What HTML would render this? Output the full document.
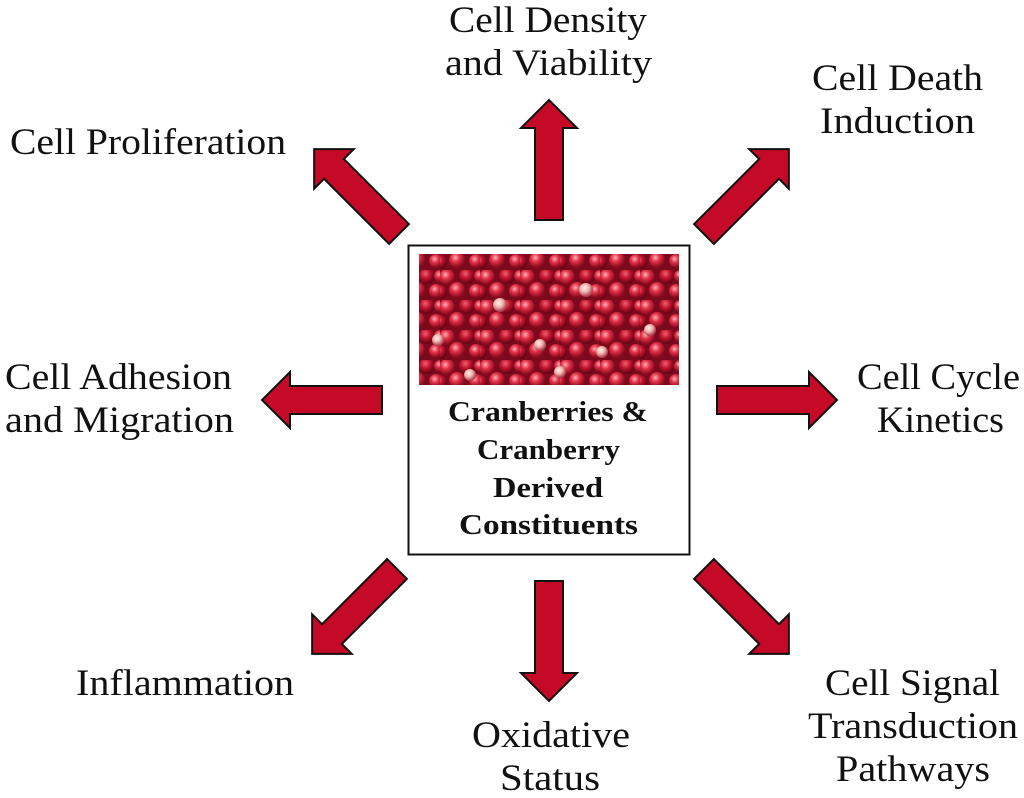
<!DOCTYPE html>
<html><head><meta charset="utf-8"><style>
html,body{margin:0;padding:0;background:#fff;}
svg{display:block;}
text{font-family:"Liberation Serif",serif;fill:#111;}
.l{font-size:37px;}
.c{font-size:28px;font-weight:bold;}
</style></head><body>
<svg width="1024" height="798" viewBox="0 0 1024 798" xmlns="http://www.w3.org/2000/svg">
<defs>
<polygon id="ar" points="0,-14 92,-14 92,-28 120,0 92,28 92,14 0,14" fill="#c40a26" stroke="#111" stroke-width="2" stroke-linejoin="miter"/>
<radialGradient id="b1" cx="0.4" cy="0.35" r="0.6"><stop offset="0" stop-color="#ffb0b8"/><stop offset="0.45" stop-color="#e23048"/><stop offset="1" stop-color="#8a0a1e"/></radialGradient>
<radialGradient id="b2" cx="0.4" cy="0.35" r="0.6"><stop offset="0" stop-color="#f06070"/><stop offset="0.5" stop-color="#c0142e"/><stop offset="1" stop-color="#6a0414"/></radialGradient>
<radialGradient id="b3" cx="0.4" cy="0.35" r="0.6"><stop offset="0" stop-color="#fff0e8"/><stop offset="0.5" stop-color="#f0b8b0"/><stop offset="1" stop-color="#b04050"/></radialGradient>
<pattern id="berries" width="40" height="30" patternUnits="userSpaceOnUse">
<rect width="40" height="30" fill="#7a0a1c"/>
<circle cx="7" cy="7" r="8" fill="url(#b1)"/>
<circle cx="27" cy="6" r="8" fill="url(#b2)"/>
<circle cx="17" cy="20" r="8" fill="url(#b1)"/>
<circle cx="36" cy="21" r="7" fill="url(#b1)"/>
<circle cx="0" cy="22" r="7" fill="url(#b2)"/>
<circle cx="40" cy="6" r="6" fill="url(#b1)"/>
</pattern>
</defs>

<rect x="408.5" y="245.5" width="281" height="309" fill="#fff" stroke="#111" stroke-width="2"/>
<rect x="419" y="254" width="260" height="131" fill="url(#berries)"/>
<circle cx="500" cy="305" r="7" fill="url(#b3)"/>
<circle cx="586" cy="290" r="7" fill="url(#b3)"/>
<circle cx="438" cy="340" r="6" fill="url(#b3)"/>
<circle cx="540" cy="345" r="6" fill="url(#b3)"/>
<circle cx="602" cy="352" r="6" fill="url(#b3)"/>
<circle cx="470" cy="375" r="6" fill="url(#b3)"/>
<circle cx="560" cy="372" r="6" fill="url(#b3)"/>
<circle cx="650" cy="330" r="6" fill="url(#b3)"/>

<g lengthAdjust="spacingAndGlyphs">
<text class="c" x="448" y="421" textLength="200" lengthAdjust="spacingAndGlyphs">Cranberries &amp;</text>
<text class="c" x="477" y="459" textLength="143" lengthAdjust="spacingAndGlyphs">Cranberry</text>
<text class="c" x="493" y="497" textLength="110" lengthAdjust="spacingAndGlyphs">Derived</text>
<text class="c" x="459" y="534" textLength="179" lengthAdjust="spacingAndGlyphs">Constituents</text>
</g>

<use href="#ar" transform="translate(549,220) rotate(-90)"/>
<use href="#ar" transform="translate(549,581) rotate(90)"/>
<use href="#ar" transform="translate(717,400)"/>
<use href="#ar" transform="translate(382,400) rotate(180)"/>
<use href="#ar" transform="translate(399,234) rotate(-135)"/>
<use href="#ar" transform="translate(704,234) rotate(-45)"/>
<use href="#ar" transform="translate(397,569) rotate(135)"/>
<use href="#ar" transform="translate(704,569) rotate(45)"/>

<text class="l" x="449" y="32" textLength="198" lengthAdjust="spacingAndGlyphs">Cell Density</text>
<text class="l" x="445" y="75" textLength="207" lengthAdjust="spacingAndGlyphs">and Viability</text>
<text class="l" x="812" y="90" textLength="171" lengthAdjust="spacingAndGlyphs">Cell Death</text>
<text class="l" x="820" y="133" textLength="155" lengthAdjust="spacingAndGlyphs">Induction</text>
<text class="l" x="10" y="154" textLength="276" lengthAdjust="spacingAndGlyphs">Cell Proliferation</text>
<text class="l" x="5" y="389" textLength="227" lengthAdjust="spacingAndGlyphs">Cell Adhesion</text>
<text class="l" x="5" y="432" textLength="229" lengthAdjust="spacingAndGlyphs">and Migration</text>
<text class="l" x="857" y="389" textLength="163" lengthAdjust="spacingAndGlyphs">Cell Cycle</text>
<text class="l" x="877" y="432" textLength="127" lengthAdjust="spacingAndGlyphs">Kinetics</text>
<text class="l" x="76" y="695" textLength="218" lengthAdjust="spacingAndGlyphs">Inflammation</text>
<text class="l" x="472" y="747" textLength="158" lengthAdjust="spacingAndGlyphs">Oxidative</text>
<text class="l" x="500" y="790" textLength="100" lengthAdjust="spacingAndGlyphs">Status</text>
<text class="l" x="825" y="695" textLength="175" lengthAdjust="spacingAndGlyphs">Cell Signal</text>
<text class="l" x="808" y="738" textLength="210" lengthAdjust="spacingAndGlyphs">Transduction</text>
<text class="l" x="836" y="781" textLength="154" lengthAdjust="spacingAndGlyphs">Pathways</text>
</svg>
</body></html>
